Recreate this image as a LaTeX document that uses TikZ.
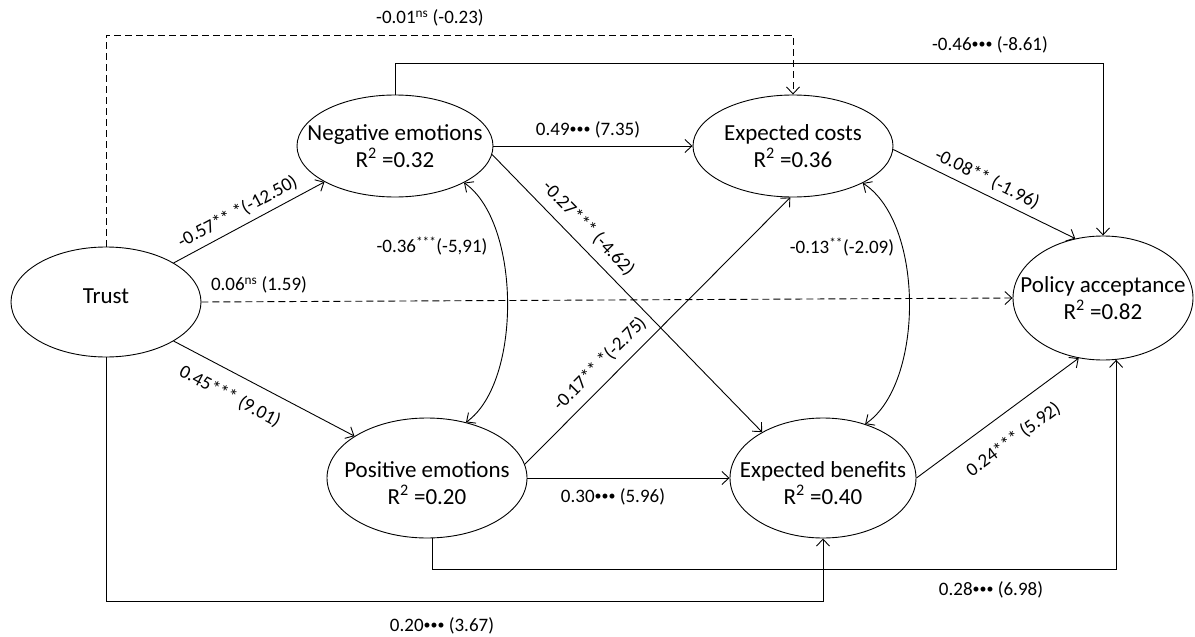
\documentclass[tikz,border=0pt]{standalone}
\usepackage{fontspec}
\setmainfont{Carlito}
\usetikzlibrary{shapes.geometric,arrows.meta,calc}
\newcommand{\tribul}{\raisebox{2.5pt}{\fontsize{14}{14}\selectfont •••}}
\begin{document}
\begin{tikzpicture}[x=1pt,y=-1pt,
  ell/.style={draw, ellipse, line width=0.9pt, inner sep=0pt},
  txt/.style={align=center, font=\fontsize{23}{27}\selectfont, inner sep=0pt},
  lbl/.style={font=\fontsize{19}{22}\selectfont, inner sep=1pt},
  arr/.style={line width=0.9pt, -{Straight Barb[length=7pt,width=13pt]}},
  darr/.style={line width=0.9pt, {Straight Barb[length=7pt,width=13pt]}-{Straight Barb[length=7pt,width=13pt]}},
  dsh/.style={arr, dash pattern=on 7pt off 4pt}
]
\useasboundingbox (0,0) rectangle (1195,637);

% nodes
\node[ell, minimum width=190pt, minimum height=110pt, label={[txt,yshift=6pt]center:Trust}] (trust) at (106,302) {};
\node[ell, minimum width=196pt, minimum height=102pt, label={[txt]center:{Negative emotions\\R\textsuperscript{2} =0.32}}] (neg) at (395,146) {};
\node[ell, minimum width=200pt, minimum height=102pt, label={[txt]center:{Expected costs\\R\textsuperscript{2} =0.36}}] (cost) at (793,146) {};
\node[ell, minimum width=180pt, minimum height=124pt, label={[txt]center:{Policy acceptance\\R\textsuperscript{2} =0.82}}] (pol) at (1103,298) {};
\node[ell, minimum width=200pt, minimum height=120pt, label={[txt,yshift=-5pt]center:{Positive emotions\\R\textsuperscript{2} =0.20}}] (pos) at (427,478) {};
\node[ell, minimum width=186pt, minimum height=120pt, label={[txt,yshift=-5pt]center:{Expected benefits\\R\textsuperscript{2} =0.40}}] (ben) at (823,478) {};

% helper coordinates for routed connectors
\coordinate (t1) at (0,35);
\coordinate (t2) at (0,63);
\coordinate (b1) at (0,601);
\coordinate (b2) at (0,569);

% routed connectors
\draw[dsh] (trust.north) -- (trust.north |- t1) -| (cost.north);
\draw[arr] (neg.north) -- (neg.north |- t2) -| (pol.north);
\draw[arr] (trust.south) -- (trust.south |- b1) -| (ben.south);
\draw[arr] (pos.-85) -- (pos.-85 |- b2) -| (pol.-78);
\draw[dsh] (trust.east) -- (pol.west);

% straight connectors
\draw[arr] (neg.east) -- (cost.west);
\draw[arr] (pos.east) -- (ben.west);
\draw[arr] (trust.30) -- node[lbl, sloped, above=5pt, pos=0.47] {-0.57** *(-12.50)} (neg.207);
\draw[arr] (trust.-30) -- node[lbl, sloped, below=13pt, pos=0.37] {0.45*** (9.01)} (pos.150);
\draw[arr] (neg.-5) -- node[lbl, sloped, above=8pt, pos=0.31] {-0.27*** (-4.62)} (ben.143);
\draw[arr] (pos.8) -- node[lbl, sloped, above=8pt, pos=0.33] {-0.17** *(-2.75)} (cost.-93);
\draw[arr] (cost.-2) -- node[lbl, sloped, above=5pt, pos=0.48] {-0.08** (-1.96)} (pol.115);
\draw[arr] (ben.east) -- node[lbl, sloped, below=17pt, pos=0.5] {0.24*** (5.92)} (pol.-112);

% covariances
\draw[darr] (neg.-28) .. controls +(57,40) and +(56,-40) .. (pos.55);
\draw[darr] (cost.-28) .. controls +(62,40) and +(59,-40) .. (ben.52);

% free labels
\node[lbl] (l1) at (430,18) {-0.01\textsuperscript{ns} (-0.23)};
\node[lbl] (l2) at (990,45) {-0.46\tribul{} (-8.61)};
\node[lbl] (l3) at (588,130) {0.49\tribul{} (7.35)};
\node[lbl] (l4) at (613,497) {0.30\tribul{} (5.96)};
\node[lbl] (l5) at (442,626) {0.20\tribul{} (3.67)};
\node[lbl] (l6) at (991,590) {0.28\tribul{} (6.98)};
\node[lbl] (l7) at (259,285) {0.06\textsuperscript{ns} (1.59)};
\node[lbl] (l8) at (432,246) {-0.36\textsuperscript{***}(-5,91)};
\node[lbl] (l9) at (842,247) {-0.13\textsuperscript{**}(-2.09)};
\end{tikzpicture}
\end{document}
